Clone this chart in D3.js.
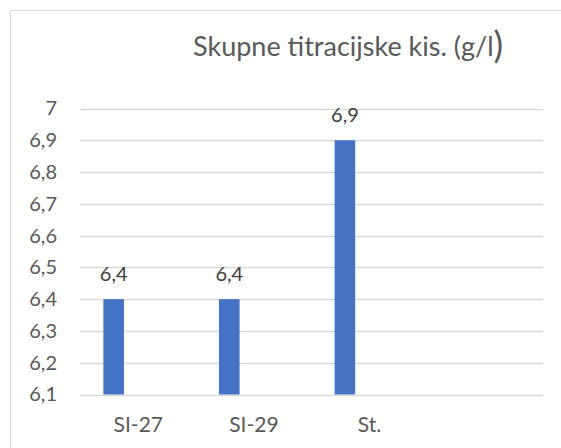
<!DOCTYPE html>
<html>
<head>
<meta charset="utf-8">
<script src="https://cdn.jsdelivr.net/npm/d3@7"></script>
<style>
  html, body { margin: 0; padding: 0; background: #fff; }
  svg { display: block; font-family: Lato, "Open Sans", sans-serif; }
</style>
</head>
<body>
<svg id="chart" width="561" height="448"></svg>
<script>
const categories = ["SI-27", "SI-29", "St.", ""];
const seriesNames = ["A", "B"];
const values = [6.4, 6.4, 6.9, null];
const yTicks = [6.1, 6.2, 6.3, 6.4, 6.5, 6.6, 6.7, 6.8, 6.9, 7];
const titleMain = "Skupne titracijske kis. (g/l";
const titleEnd = ")";

const svg = d3.select("#chart");
const plot = { left: 80.5, right: 543, top: 108.5, bottom: 394.5 };

// chart frame
svg.append("rect")
  .attr("x", 10.5).attr("y", 10.5)
  .attr("width", 600).attr("height", 600)
  .attr("fill", "#fff").attr("stroke", "#d9d9d9").attr("stroke-width", 1);

const y = d3.scaleLinear().domain([6.1, 7]).range([plot.bottom, plot.top]);
const x0 = d3.scaleBand().domain(categories).range([plot.left, plot.right]).paddingInner(0).paddingOuter(0);
const x1 = d3.scaleBand().domain(seriesNames).range([0, x0.bandwidth()]).paddingInner(0.5825).paddingOuter(0.464);

// gridlines
svg.append("g").selectAll("line").data(yTicks).join("line")
  .attr("x1", plot.left).attr("x2", plot.right)
  .attr("y1", d => Math.round(y(d)) + 0.5).attr("y2", d => Math.round(y(d)) + 0.5)
  .attr("stroke", "#d9d9d9").attr("stroke-width", 1.3);

// y axis labels
const yAxis = d3.axisLeft(y).tickValues(yTicks).tickSize(0).tickPadding(0)
  .tickFormat(d => String(d).replace(".", ","));
const yg = svg.append("g").attr("transform", `translate(57,0)`).call(yAxis);
yg.select(".domain").remove();
yg.selectAll("text").attr("fill", "#595959").attr("font-size", 20).attr("font-family", "Lato, sans-serif");

// x axis labels
const xAxis = d3.axisBottom(x0).tickSize(0).tickPadding(0);
const xg = svg.append("g").attr("transform", `translate(0,${plot.bottom + 23})`).call(xAxis);
xg.select(".domain").remove();
xg.selectAll("text").attr("fill", "#595959").attr("font-size", 21).attr("font-family", "Lato, sans-serif");

// bars
const barData = categories.map((c, i) => ({ cat: c, v: values[i] })).filter(d => d.v != null);
svg.append("g").selectAll("rect").data(barData).join("rect")
  .attr("x", d => x0(d.cat) + x1("A"))
  .attr("width", x1.bandwidth())
  .attr("y", d => y(d.v))
  .attr("height", d => y(6.1) - y(d.v))
  .attr("fill", "#4472c4");

// data labels
svg.append("g").selectAll("text").data(barData).join("text")
  .attr("x", d => x0(d.cat) + x1("A") + x1.bandwidth() / 2)
  .attr("y", d => y(d.v) - 18)
  .attr("text-anchor", "middle")
  .attr("fill", "#404040").attr("font-size", 20)
  .text(d => String(d.v).replace(".", ","));

// title
const t = svg.append("text")
  .attr("x", 193).attr("y", 56)
  .attr("fill", "#595959").attr("font-size", 27);
t.append("tspan").text(titleMain);
t.append("tspan").attr("font-size", 36).attr("dy", 2).text(titleEnd);
</script>
</body>
</html>
